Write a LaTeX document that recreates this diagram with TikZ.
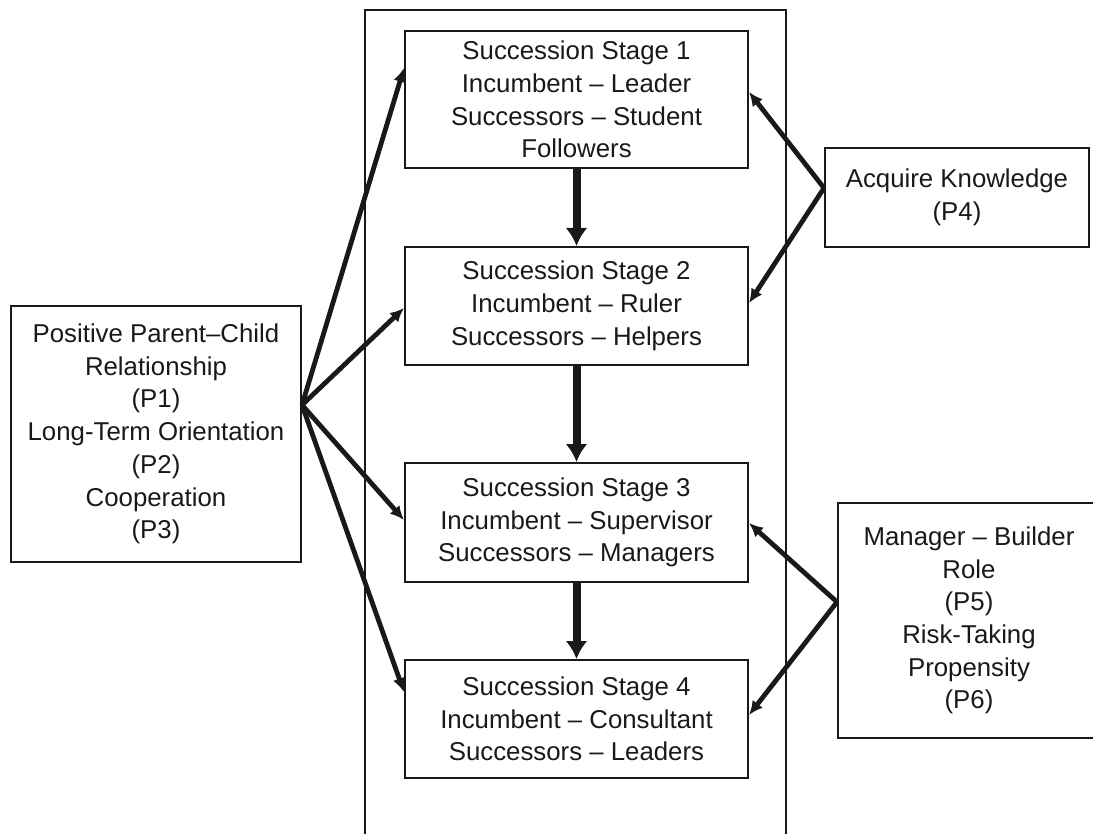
\documentclass[tikz,border=0pt]{standalone}
\usepackage{fontspec}
\setmainfont{Liberation Sans}
\usetikzlibrary{arrows.meta}
\begin{document}
\begin{tikzpicture}[x=1pt,y=1pt,
  box/.style={draw=black!90,line width=2pt,align=center,inner sep=0pt,
    font=\fontsize{25.8}{32.7}\selectfont,text=black!90},
  stagebox/.style={box,minimum width=343pt},
  link/.style={draw=black!90,line width=4.8pt,-{Latex[length=14pt,width=13pt]}},
  flow/.style={draw=black!90,line width=8pt,-{Latex[length=18pt,width=22pt]}}]
\useasboundingbox (0,0) rectangle (1093,-834);
\clip (0,0) rectangle (1093,-834);
% frame around the four stages
\draw[line width=2pt,black!90] (365,-840) -- (365,-10) -- (786,-10) -- (786,-840);
% succession stages
\node[stagebox,minimum height=137pt] (s1) at (576.5,-99.5)
  {Succession Stage 1\\Incumbent – Leader\\Successors – Student\\Followers};
\node[stagebox,minimum height=118pt] (s2) at (576.5,-306)
  {Succession Stage 2\\Incumbent – Ruler\\Successors – Helpers};
\node[stagebox,minimum height=119pt] (s3) at (576.5,-522.5)
  {Succession Stage 3\\Incumbent – Supervisor\\Successors – Managers};
\node[stagebox,minimum height=118pt] (s4) at (576.5,-719)
  {Succession Stage 4\\Incumbent – Consultant\\Successors – Leaders};
% antecedents
\node[box,minimum width=290pt,minimum height=256pt] (rel) at (156,-434)
  {Positive Parent–Child\\Relationship\\(P1)\\Long-Term Orientation\\(P2)\\Cooperation\\(P3)};
\node[box,minimum width=264pt,minimum height=99pt] (know) at (957,-197.5)
  {Acquire Knowledge\\(P4)};
\node[box,minimum width=262pt,minimum height=235pt] (mgr) at (969,-620.5)
  {Manager – Builder\\Role\\(P5)\\Risk-Taking\\Propensity\\(P6)};
% stage progression
\draw[flow] (s1) -- (s2);
\draw[flow] (s2) -- (s3);
\draw[flow] (s3) -- (s4);
% influences on the stages
\coordinate (relsrc) at ([yshift=29pt]rel.east);
\draw[link] (relsrc) -- ([yshift=31.5pt]s1.west);
\draw[link] (relsrc) -- ([yshift=-2pt]s2.west);
\draw[link] (relsrc) -- ([yshift=2.5pt]s3.west);
\draw[link] (relsrc) -- ([yshift=27pt]s4.west);
\coordinate (knowsrc) at ([yshift=9.5pt]know.west);
\draw[link] (knowsrc) -- ([yshift=7.5pt]s1.east);
\draw[link] (knowsrc) -- ([yshift=3pt]s2.east);
\coordinate (mgrsrc) at ([yshift=18.5pt]mgr.west);
\draw[link] (mgrsrc) -- ([yshift=-0.5pt]s3.east);
\draw[link] (mgrsrc) -- ([yshift=4pt]s4.east);
\end{tikzpicture}
\end{document}
